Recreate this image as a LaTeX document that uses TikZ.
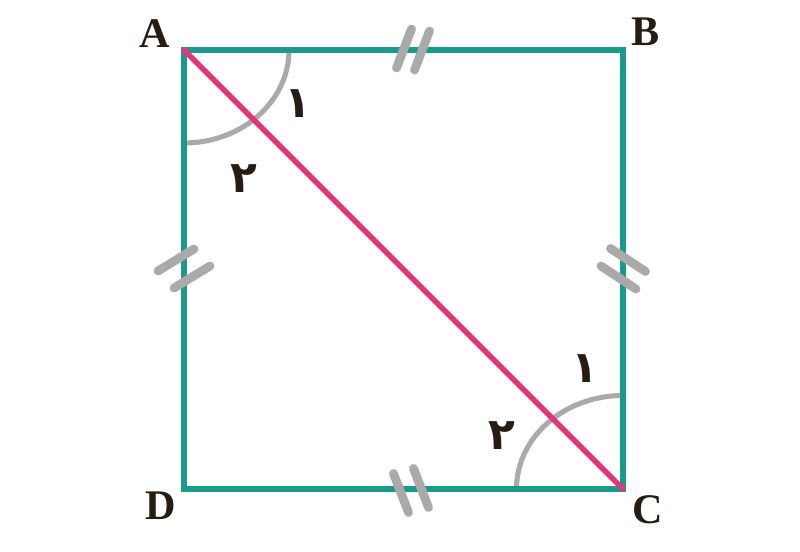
\documentclass[tikz,border=0pt]{standalone}
\usepackage{fontspec}
\setmainfont{Liberation Serif}
\newfontfamily\arabicfont[Script=Arabic]{DejaVu Sans}
\TeXXeTstate=1
\definecolor{sidecol}{RGB}{26,154,139}
\definecolor{diagcol}{RGB}{226,54,120}
\definecolor{markcol}{RGB}{170,170,170}
\definecolor{inkcol}{RGB}{38,28,18}
\tikzset{
  side/.style={draw=sidecol,line width=3.4pt},
  diag/.style={draw=diagcol,line width=3.1pt,line cap=round},
  anglearc/.style={draw=markcol,line width=2.9pt},
  tick/.style={draw=markcol,line width=5pt,line cap=round},
  vertex/.style={text=inkcol,font=\fontsize{24}{26}\selectfont\bfseries},
  anglenum/.style={text=inkcol,font=\fontsize{25}{27}\selectfont\arabicfont\bfseries}
}
\begin{document}
\begin{tikzpicture}
\useasboundingbox (0,0) rectangle (16,11.02);
\coordinate (A) at (3.68,10.02);
\coordinate (B) at (12.46,10.02);
\coordinate (C) at (12.46,1.24);
\coordinate (D) at (3.68,1.24);
% angle arcs
\draw[anglearc] ([xshift=2.1cm]A) arc[start angle=0,end angle=-90,x radius=2.1,y radius=1.86];
\draw[anglearc] ([yshift=1.87cm]C) arc[start angle=90,end angle=180,x radius=2.13,y radius=1.87];
% square
\draw[side] (A) -- (B) -- (C) -- (D) -- cycle;
% equal sides
\foreach \p/\q in {{(7.93,9.66)}/{(8.23,10.44)},{(8.29,9.62)}/{(8.59,10.40)},
  {(7.87,1.55)}/{(8.17,0.77)},{(8.27,1.65)}/{(8.57,0.87)},
  {(3.16,5.60)}/{(3.88,6.04)},{(3.48,5.26)}/{(4.20,5.70)},
  {(12.21,6.05)}/{(12.91,5.59)},{(12.02,5.70)}/{(12.72,5.24)}}{
\draw[tick] \p -- \q;
}
% diagonal
\draw[diag] (A) -- (C);
% labels
\node[vertex] at (3.10,10.34) (labA) {A};
\node[vertex] at (12.92,10.38) (labB) {B};
\node[vertex] at (12.96,0.82) (labC) {C};
\node[vertex] at (3.22,0.90) (labD) {D};
\node[anglenum] at (5.96,8.94) (a1) {\beginR ١\endR};
\node[anglenum] at (4.88,7.44) (a2) {\beginR ٢\endR};
\node[anglenum] at (11.70,3.64) (c1) {\beginR ١\endR};
\node[anglenum] at (10.04,2.30) (c2) {\beginR ٢\endR};
\end{tikzpicture}
\end{document}
